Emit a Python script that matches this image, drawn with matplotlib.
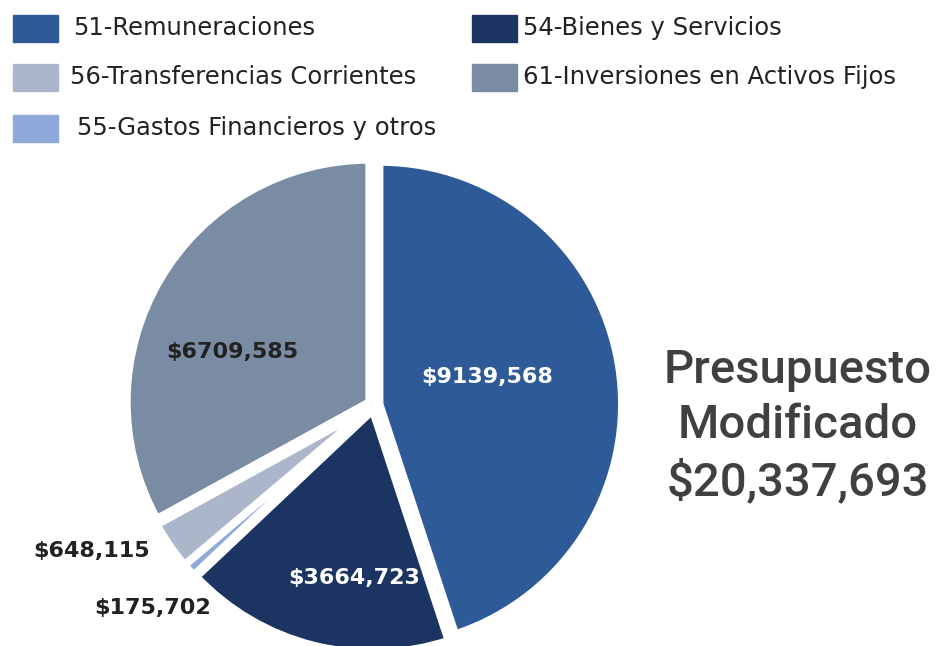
import matplotlib.pyplot as plt
from matplotlib.patches import Rectangle

# partidas del presupuesto modificado
categorias = ["51-Remuneraciones", "54-Bienes y Servicios", "55-Gastos Financieros y otros",
              "56-Transferencias Corrientes", "61-Inversiones en Activos Fijos"]
montos = [9139568, 3664723, 175702, 648115, 6709585]
etiquetas = ["$9139,568", "$3664,723", "$175,702", "$648,115", "$6709,585"]
colores = ["#2E5B97", "#1B3461", "#8EA9DA", "#ACB6CA", "#7A8CA3"]
total_txt = "$20,337,693"

W, H = 943, 646
fig = plt.figure(figsize=(W / 100, H / 100), dpi=100)
ax = fig.add_axes([0, 0, 1, 1])

centro = (374, H - 405)
radio = 242
sep = [5.8] * len(montos)   # en pixeles (unidades de datos)

# relleno y luego los bordes blancos encima
ax.pie(montos, colors=colores, startangle=90, counterclock=False, center=centro,
       radius=radio, explode=sep, wedgeprops=dict(linewidth=0))
ax.pie(montos, colors=colores, startangle=90, counterclock=False, center=centro,
       radius=radio, explode=sep,
       wedgeprops=dict(facecolor="none", edgecolor="white", linewidth=5.3))

# etiquetas de valores (pixeles de la imagen)
pos = [(487, 377, "white"), (354, 578, "white"), (153, 608, "#222222"),
       (92, 551, "#222222"), (232, 352, "#222222")]
for (x, y, c), t in zip(pos, etiquetas):
    ax.text(x, H - y, t, color=c, fontsize=16, fontweight="bold", family="DejaVu Sans",
            ha="center", va="center", zorder=5)

# leyenda manual
leg = [(13, 28, 73), (472, 28, 523), (13, 128, 77), (13, 77, 70), (472, 77, 523)]
for (sx, sy, tx), cat, col in zip(leg, categorias, colores):
    ax.add_patch(Rectangle((sx, H - sy - 13.5), 45, 27, color=col))
    ax.text(tx, H - sy, cat, fontsize=17.5, family="DejaVu Sans", color="#222222",
            ha="left", va="center")

ax.text(798, H - 426, "Presupuesto\nModificado\n" + total_txt, fontsize=34,
        family="Roboto", fontweight="medium", color="#404040", ha="center",
        va="center", linespacing=1.32)

ax.set_xlim(0, W)
ax.set_ylim(0, H)
ax.set_aspect("equal")
ax.axis("off")

fig.savefig("out.png", dpi=100)
